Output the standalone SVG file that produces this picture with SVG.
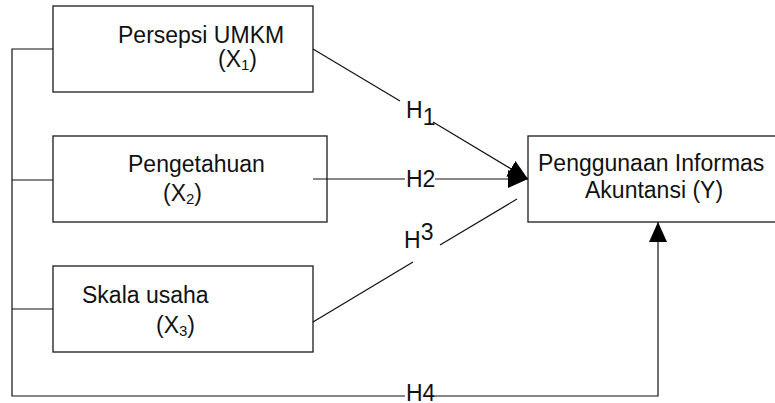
<svg xmlns="http://www.w3.org/2000/svg" width="775" height="403" viewBox="0 0 775 403">
  <style>
    .box { fill: #ffffff; stroke: #2b2b2b; stroke-width: 1.4; }
    .lbl { font-family: "Liberation Sans", Arial, sans-serif; font-size: 23px; fill: #111111; }
    .sub { font-size: 15px; }
    .wire { fill: none; stroke: #111111; stroke-width: 1.2; }
  </style>
  <defs>
    <marker id="arrow" viewBox="0 0 20 18" refX="20" refY="9" markerWidth="20" markerHeight="18" markerUnits="userSpaceOnUse" orient="auto">
      <path d="M0,0 L20,9 L0,18 Z" fill="#000000"/>
    </marker>
  </defs>

  <rect width="775" height="403" fill="#ffffff"/>

  <g id="x1">
    <rect class="box" x="53" y="6" width="260" height="86"/>
    <text class="lbl" x="118" y="43">Persepsi UMKM</text>
    <text class="lbl" x="218" y="67">(X<tspan class="sub" dy="3">1</tspan><tspan dy="-3">)</tspan></text>
  </g>

  <g id="x2">
    <rect class="box" x="53" y="136" width="274" height="86"/>
    <text class="lbl" x="128" y="172">Pengetahuan</text>
    <text class="lbl" x="163" y="201">(X<tspan class="sub" dy="3">2</tspan><tspan dy="-3">)</tspan></text>
  </g>

  <g id="x3">
    <rect class="box" x="53" y="266" width="260" height="86"/>
    <text class="lbl" x="82" y="303">Skala usaha</text>
    <text class="lbl" x="156" y="333">(X<tspan class="sub" dy="3">3</tspan><tspan dy="-3">)</tspan></text>
  </g>

  <g id="y">
    <rect class="box" x="528" y="136" width="262" height="86"/>
    <text class="lbl" x="538" y="171">Penggunaan Informas</text>
    <text class="lbl" x="585" y="198">Akuntansi (Y)</text>
  </g>

  <!-- connectors -->
  <g id="connectors">
    <!-- left bus feeding H4 -->
    <polyline class="wire" points="53,49 12,49 12,396 405,396"/>
    <line class="wire" x1="12" y1="180" x2="53" y2="180"/>
    <line class="wire" x1="12" y1="309" x2="53" y2="309"/>
    <polyline class="wire" points="435,396 658,396 658,222" marker-end="url(#arrow)"/>
    <!-- H1 -->
    <line class="wire" x1="313" y1="49" x2="400" y2="101"/>
    <line class="wire" x1="433" y1="122" x2="528" y2="179" marker-end="url(#arrow)"/>
    <!-- H2 -->
    <line class="wire" x1="313" y1="179" x2="405" y2="179"/>
    <line class="wire" x1="435" y1="179" x2="528" y2="179" marker-end="url(#arrow)"/>
    <!-- H3 -->
    <line class="wire" x1="313" y1="322" x2="413" y2="262"/>
    <line class="wire" x1="440" y1="245" x2="517" y2="199"/>
    <!-- path labels -->
    <text class="lbl" x="406" y="118">H<tspan dy="7">1</tspan></text>
    <text class="lbl" x="406" y="187">H2</text>
    <text class="lbl" x="404" y="248">H<tspan dy="-8">3</tspan></text>
    <text class="lbl" x="406" y="401">H4</text>
  </g>
</svg>
